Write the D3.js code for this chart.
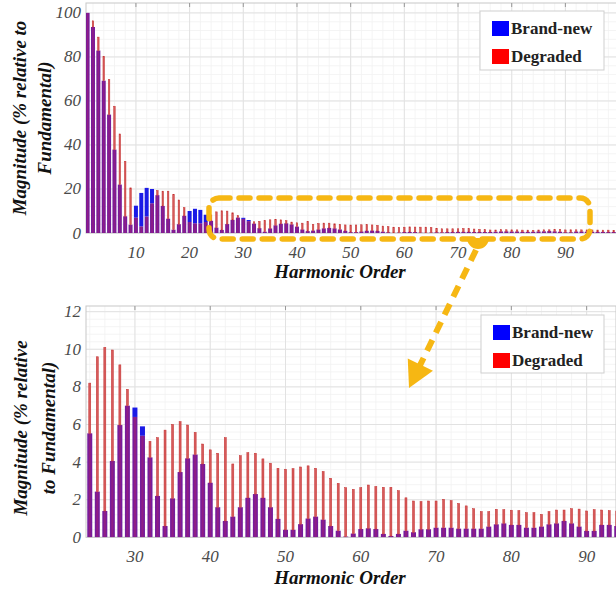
<!DOCTYPE html>
<html>
<head>
<meta charset="utf-8">
<script src="https://cdn.jsdelivr.net/npm/d3@7"></script>
<style>
  body { margin: 0; background: #fff; }
  svg { display: block; }
  .tick-label { font-family: "Times New Roman", "Liberation Serif", Tinos, serif; font-style: italic; font-size: 17px; fill: #4a4a4a; }
  .axis-title { font-family: "Times New Roman", "Liberation Serif", Tinos, serif; font-style: italic; font-weight: bold; font-size: 19px; fill: #111; }
  .legend-text { font-family: "Times New Roman", "Liberation Serif", Tinos, serif; font-weight: bold; font-size: 17px; fill: #222; }
</style>
</head>
<body>
<div id="chart"></div>
<script>
// harmonic orders 1..100
const harmonics = d3.range(1, 101);

// Brand-new magnitudes (% of fundamental), h1..h100
const brandNew = [
  100, 93.6, 82.9, 69.2, 53.8, 37.9, 22, 7.6, 3.8, 12.4,
  18.2, 20.5, 20, 17.2, 12.3, 6.5, 1.5, 4, 7.8, 10,
  11, 10.5, 8.3, 5.53, 2.43, 1.4, 4.06, 5.97, 7.0, 6.9,
  5.9, 4.25, 2.2, 0.6, 2.07, 3.47, 4.2, 4.4, 3.9, 2.9,
  1.6, 0.87, 1.1, 1.6, 2.1, 2.3, 2.1, 1.6, 0.98, 0.4,
  0.4, 0.7, 1.0, 1.1, 0.94, 0.6, 0.35, 0.04, 0.2, 0.44,
  0.48, 0.44, 0.18, 0.07, 0.18, 0.35, 0.27, 0.43, 0.43, 0.51,
  0.51, 0.51, 0.46, 0.46, 0.46, 0.46, 0.57, 0.69, 0.74, 0.66,
  0.66, 0.51, 0.51, 0.57, 0.69, 0.74, 0.87, 0.74, 0.57, 0.34,
  0.34, 0.66, 0.66, 0.6, 0.55, 0.5, 0.5, 0.45, 0.45, 0.4
];

// Degraded magnitudes (% of fundamental), h1..h100
const degraded = [
  100, 96.4, 89, 80.3, 69.7, 57.6, 45, 32.6, 20.5, 7,
  3, 7.5, 13.5, 19.3, 19, 19, 17.5, 15, 11.5, 5,
  4.4, 4.4, 5, 8.2, 9.6, 10.1, 9.96, 9.17, 7.87, 6.4,
  5.4, 5.1, 5.3, 5.7, 6.0, 6.15, 5.97, 5.58, 4.96, 4.65,
  4.47, 5.3, 3.9, 4.34, 4.5, 4.47, 4.17, 3.94, 3.67, 3.62,
  3.65, 3.74, 3.8, 3.67, 3.5, 3.14, 2.87, 2.64, 2.55, 2.64,
  2.78, 2.7, 2.66, 2.66, 2.48, 2.1, 1.93, 1.9, 1.93, 1.93,
  2.02, 1.95, 1.8, 1.67, 1.52, 1.37, 1.37, 1.49, 1.47, 1.44,
  1.42, 1.31, 1.31, 1.22, 1.37, 1.45, 1.45, 1.52, 1.5, 1.4,
  1.47, 1.45, 1.42, 1.4, 1.38, 1.35, 1.3, 1.3, 1.25, 1.25
];

const seriesNames = ["Brand-new", "Degraded"];
const seriesColors = ["#0000ff", "#ff0000"];

const width = 616, height = 592;
const svg = d3.select("#chart").append("svg")
  .attr("width", width).attr("height", height);

const data = harmonics.map((h, i) => ({ h, b: brandNew[i], d: degraded[i] }));

//////////////////////////// panels ////////////////////////////
const panels = [
  {
    id: "top", xDom: [0.7, 99.8], yDom: [0, 104.5],
    left: 86, right: 618, top: 3, bottom: 233,
    xTicks: d3.range(10, 100, 10), yTicks: d3.range(0, 101, 20),
    xMinor: d3.range(2, 100, 2), yMinor: d3.range(4, 104, 4),
    hMin: 1, hMax: 100, wide: 4, thin: 1.5,
    titleLines: ["Magnitude (% relative to", "Fundamental)"],
    titleX: [26, 51], titleY: 118,
    xLabelY: 258, xTitleY: 278,
    legend: { x: 480, y: 11, w: 124, h: 59 }
  },
  {
    id: "bottom", xDom: [23.5, 93.9], yDom: [0, 12.3],
    left: 86, right: 616, top: 306, bottom: 537.3,
    xTicks: d3.range(30, 100, 10), yTicks: d3.range(0, 13, 2),
    xMinor: d3.range(24, 96, 2), yMinor: d3.range(0.4, 12.3, 0.4),
    hMin: 24, hMax: 94, wide: 5, thin: 2,
    titleLines: ["Magnitude (% relative", "to Fundamental)"],
    titleX: [27, 55], titleY: 428,
    xLabelY: 562, xTitleY: 584,
    legend: { x: 481, y: 315, w: 123, h: 58 }
  }
];

panels.forEach((p) => {
  const x = d3.scaleLinear().domain(p.xDom).range([p.left, p.right]);
  const y = d3.scaleLinear().domain(p.yDom).range([p.bottom, p.top]);
  const g = svg.append("g").attr("class", "panel-" + p.id);

  g.append("clipPath").attr("id", "clip-" + p.id)
    .append("rect")
    .attr("x", p.left).attr("y", p.top)
    .attr("width", p.right - p.left).attr("height", p.bottom - p.top);

  // minor grid
  g.selectAll(".xminor").data(p.xMinor).enter().append("line")
    .attr("x1", (d) => x(d)).attr("x2", (d) => x(d))
    .attr("y1", p.top).attr("y2", p.bottom)
    .attr("stroke", "#f1f1f1").attr("stroke-width", 0.8);
  g.selectAll(".yminor").data(p.yMinor).enter().append("line")
    .attr("x1", p.left).attr("x2", p.right)
    .attr("y1", (d) => y(d)).attr("y2", (d) => y(d))
    .attr("stroke", "#f1f1f1").attr("stroke-width", 0.8);

  // major grid
  g.selectAll(".xgrid").data(p.xTicks).enter().append("line")
    .attr("x1", (d) => x(d)).attr("x2", (d) => x(d))
    .attr("y1", p.top).attr("y2", p.bottom)
    .attr("stroke", "#e2e2e2").attr("stroke-width", 1);
  g.selectAll(".ygrid").data(p.yTicks).enter().append("line")
    .attr("x1", p.left).attr("x2", p.right)
    .attr("y1", (d) => y(d)).attr("y2", (d) => y(d))
    .attr("stroke", "#e2e2e2").attr("stroke-width", 1);

  // box
  g.append("rect")
    .attr("x", p.left).attr("y", p.top)
    .attr("width", p.right - p.left).attr("height", p.bottom - p.top)
    .attr("fill", "none").attr("stroke", "#c8c8c8").attr("stroke-width", 1);

  // tick marks on top border
  g.selectAll(".ttick").data(p.xTicks).enter().append("line")
    .attr("x1", (d) => x(d)).attr("x2", (d) => x(d))
    .attr("y1", p.top).attr("y2", p.top + 4)
    .attr("stroke", "#999");

  // bars
  const bars = g.append("g").attr("clip-path", `url(#clip-${p.id})`);
  const rows = data.filter((d) => d.h >= p.hMin && d.h <= p.hMax);

  // purple overlap
  bars.selectAll(".overlap").data(rows).enter().append("rect")
    .attr("x", (d) => x(d.h) - p.wide / 2)
    .attr("width", p.wide)
    .attr("y", (d) => y(Math.min(d.b, d.d)))
    .attr("height", (d) => y(0) - y(Math.min(d.b, d.d)))
    .attr("fill", "#761c9c");

  // blue above red
  bars.selectAll(".blue").data(rows.filter((d) => d.b > d.d)).enter().append("rect")
    .attr("x", (d) => x(d.h) - p.wide / 2)
    .attr("width", p.wide)
    .attr("y", (d) => y(d.b))
    .attr("height", (d) => y(d.d) - y(d.b))
    .attr("fill", "#1a1ae6");

  // thin red line inside overlap
  bars.selectAll(".redin").data(rows).enter().append("rect")
    .attr("x", (d) => x(d.h) - p.thin / 2)
    .attr("width", p.thin)
    .attr("y", (d) => y(Math.min(d.b, d.d)))
    .attr("height", (d) => y(0) - y(Math.min(d.b, d.d)))
    .attr("fill", "#b0206a").attr("opacity", 0.45);

  // red above blue (thin)
  bars.selectAll(".red").data(rows.filter((d) => d.d > d.b)).enter().append("rect")
    .attr("x", (d) => x(d.h) - p.thin / 2)
    .attr("width", p.thin)
    .attr("y", (d) => y(d.d))
    .attr("height", (d) => y(d.b) - y(d.d))
    .attr("fill", "#d65a5a").attr("stroke", "#c42f2f").attr("stroke-width", 0.5);

  // tick labels
  g.selectAll(".ylab").data(p.yTicks).enter().append("text")
    .attr("class", "tick-label")
    .attr("x", p.left - 5).attr("y", (d) => y(d) + 5.5)
    .attr("text-anchor", "end")
    .text((d) => d);
  g.selectAll(".xlab").data(p.xTicks).enter().append("text")
    .attr("class", "tick-label")
    .attr("x", (d) => x(d)).attr("y", p.xLabelY)
    .attr("text-anchor", "middle")
    .text((d) => d);

  // titles
  g.append("text").attr("class", "axis-title")
    .attr("x", 340).attr("y", p.xTitleY)
    .attr("text-anchor", "middle")
    .text("Harmonic Order");
  p.titleLines.forEach((t, i) => {
    g.append("text").attr("class", "axis-title")
      .attr("transform", `translate(${p.titleX[i]},${p.titleY}) rotate(-90)`)
      .attr("text-anchor", "middle")
      .text(t);
  });

  // legend
  const L = p.legend;
  const lg = g.append("g").attr("transform", `translate(${L.x},${L.y})`);
  lg.append("rect").attr("width", L.w).attr("height", L.h)
    .attr("fill", "#fff").attr("stroke", "#cfcfcf");
  seriesNames.forEach((name, i) => {
    lg.append("rect")
      .attr("x", 12).attr("y", 10 + i * 28)
      .attr("width", 17).attr("height", 15)
      .attr("fill", seriesColors[i]);
    lg.append("text").attr("class", "legend-text")
      .attr("x", 31).attr("y", 23 + i * 28)
      .text(name);
  });
});

//////////////////////////// annotation ////////////////////////////
const gold = "#f6b713";
const ann = svg.append("g");

ann.append("rect")
  .attr("x", 209).attr("y", 198)
  .attr("width", 381).attr("height", 41)
  .attr("rx", 10)
  .attr("fill", "none").attr("stroke", gold)
  .attr("stroke-width", 5.5)
  .attr("stroke-dasharray", "11 9")
  .attr("stroke-linecap", "round");

// half-disc at arrow start
ann.append("path")
  .attr("d", d3.arc()({ innerRadius: 0, outerRadius: 11, startAngle: Math.PI / 2, endAngle: 3 * Math.PI / 2 }))
  .attr("transform", "translate(478,238)")
  .attr("fill", gold);

const start = [476, 250], tip = [409, 388];
const dx = tip[0] - start[0], dy = tip[1] - start[1];
const len = Math.hypot(dx, dy);
const ux = dx / len, uy = dy / len;
const headLen = 26, headW = 14;
const base = [tip[0] - ux * headLen, tip[1] - uy * headLen];

ann.append("line")
  .attr("x1", start[0]).attr("y1", start[1])
  .attr("x2", base[0] + ux * 2).attr("y2", base[1] + uy * 2)
  .attr("stroke", gold).attr("stroke-width", 6)
  .attr("stroke-dasharray", "12 8");

ann.append("path")
  .attr("d", d3.line()([
    tip,
    [base[0] - uy * headW, base[1] + ux * headW],
    [base[0] + uy * headW, base[1] - ux * headW]
  ]) + "Z")
  .attr("fill", gold);
</script>
</body>
</html>
